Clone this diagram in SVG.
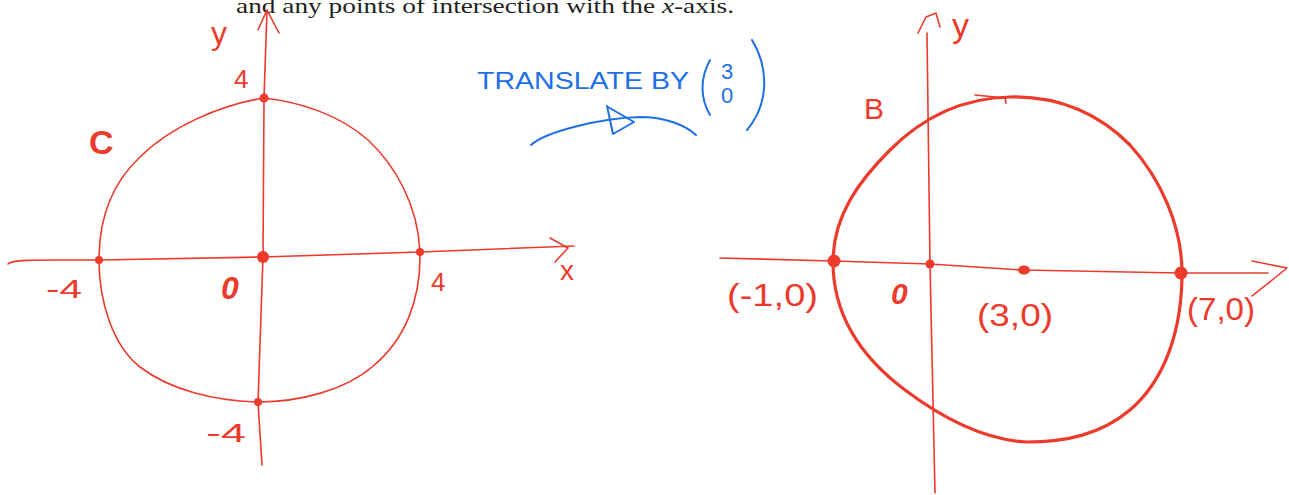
<svg xmlns="http://www.w3.org/2000/svg" width="1289" height="495" viewBox="0 0 1289 495">
<style>
.ax{fill:none;stroke:#EC3A2C;stroke-width:1.6;stroke-linecap:round;stroke-linejoin:round}
.cv{fill:none;stroke:#EC3A2C;stroke-width:1.6;stroke-linecap:round}
.cvb{fill:none;stroke:#EC3A2C;stroke-width:3.2;stroke-linecap:round}
.dot{fill:#EC3A2C}
.lbl{fill:#EC3A2C;font-family:"Liberation Sans",Arial,sans-serif}
.bl{fill:none;stroke:#1E6FE6;stroke-width:2;stroke-linecap:round;stroke-linejoin:round}
.blt{fill:#1E6FE6;font-family:"Liberation Sans",Arial,sans-serif}
</style>
<rect width="1289" height="495" fill="#fff"/>
<text x="236" y="13" font-family="'Liberation Serif','Times New Roman',serif" font-size="22" fill="#231F20" textLength="498" lengthAdjust="spacingAndGlyphs">and any points of intersection with the <tspan font-style="italic">x</tspan>-axis.</text>

<g id="connectors">
  <path class="ax" d="M8,264 C12,259 40,260 99,260 L263,257 L420,252 L574,246"/>
  <path class="ax" d="M550,238 L568,248 L555,262"/>
  <path class="ax" d="M262,465 L258,402 L263,257 L264,98 L267,10"/>
  <path class="ax" d="M258,30 L267,10 L279,33"/>
  <path class="ax" d="M720,258 L833,261 L930,264 L1022,270 L1180,273 L1268,273"/>
  <path class="ax" d="M1252,261 L1287,268 C1275,278 1262,288 1252,296"/>
  <path class="ax" d="M935,493 L930,264 L927,33"/>
  <path class="ax" d="M918,33 L926,17 L936,13 L940,27"/>
  <path class="bl" d="M531,145 C545,132 600,118 640,117 C665,117 685,125 696,135"/>
  <path class="bl" d="M607,106 L613,134 M608,107 L634,122 L613,134" stroke-width="2.6"/>
</g>

<g id="circle-C">
  <path class="cv" d="M264,98 C300,102 340,115 368,140 C395,165 418,205 420,252 C421,300 405,340 372,367 C345,390 300,402 258,402 C215,401 170,390 140,367 C112,345 99,300 99,260 C99,220 110,185 140,157 C170,127 220,105 264,98 Z"/>
  <text class="lbl" x="89" y="154" font-size="34" font-weight="bold">C</text>
</g>

<g id="points-C">
  <circle class="dot" cx="264" cy="98" r="4.5"/>
  <circle class="dot" cx="99" cy="260" r="4"/>
  <circle class="dot" cx="420" cy="252" r="4"/>
  <circle class="dot" cx="258" cy="402" r="4"/>
  <circle class="dot" cx="263" cy="257" r="6"/>
</g>

<g id="labels-C">
  <text class="lbl" x="211" y="44" font-size="32">y</text>
  <text class="lbl" x="234" y="88" font-size="26">4</text>
  <text class="lbl" x="46" y="298" font-size="26" textLength="36" lengthAdjust="spacingAndGlyphs">-4</text>
  <text class="lbl" x="221" y="299" font-size="32" font-style="italic" font-weight="bold">0</text>
  <text class="lbl" x="431" y="291" font-size="26">4</text>
  <text class="lbl" x="206" y="442" font-size="26" textLength="40" lengthAdjust="spacingAndGlyphs">-4</text>
  <text class="lbl" x="560" y="280" font-size="28">x</text>
</g>

<g id="translate-note">
  <text class="blt" x="477" y="89" font-size="24" textLength="212" lengthAdjust="spacingAndGlyphs">TRANSLATE BY</text>
  <path class="bl" d="M710,60 C700,78 700,98 710,115" stroke-width="2.4"/>
  <text class="blt" x="721" y="79" font-size="22">3</text>
  <text class="blt" x="721" y="103" font-size="22">0</text>
  <path class="bl" d="M752,40 C770,70 768,105 747,130" stroke-width="2.8"/>
</g>

<g id="circle-B">
  <path class="cvb" d="M833,262 C833,215 860,180 890,150 C920,120 960,98 1010,97 C1060,96 1100,115 1130,145 C1160,178 1182,225 1182,273 C1182,330 1165,380 1130,410 C1100,435 1065,442 1027,442 C985,440 945,420 905,390 C865,360 833,320 833,262 Z"/>
  <path class="cv" d="M975,95 L1005,98 L1006,103"/>
  <text class="lbl" x="864" y="119" font-size="30">B</text>
</g>

<g id="points-B">
  <circle class="dot" cx="834" cy="261" r="6.5"/>
  <circle class="dot" cx="930" cy="264" r="4.5"/>
  <ellipse class="dot" cx="1024" cy="270" rx="6" ry="4.5"/>
  <circle class="dot" cx="1181" cy="273" r="6.5"/>
</g>

<g id="labels-B">
  <text class="lbl" x="952" y="37" font-size="34">y</text>
  <text class="lbl" x="727" y="306" font-size="32" textLength="91" lengthAdjust="spacingAndGlyphs">(-1,0)</text>
  <text class="lbl" x="891" y="304" font-size="30" font-style="italic" font-weight="bold">0</text>
  <text class="lbl" x="977" y="326" font-size="32" textLength="76" lengthAdjust="spacingAndGlyphs">(3,0)</text>
  <text class="lbl" x="1187" y="320" font-size="32" textLength="68" lengthAdjust="spacingAndGlyphs">(7,0)</text>
</g>
</svg>
